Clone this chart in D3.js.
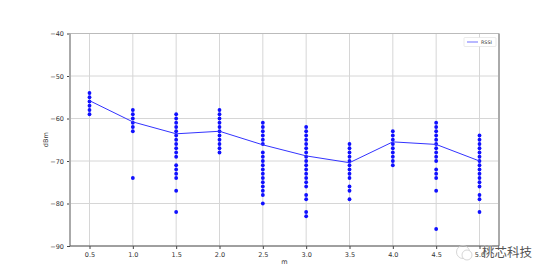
<!DOCTYPE html>
<html>
<head>
<meta charset="utf-8">
<script src="https://cdn.jsdelivr.net/npm/d3@7"></script>
<style>
  body { margin: 0; background: #fff; }
  svg { display: block; font-family: "DejaVu Sans", sans-serif; }
</style>
</head>
<body>
<svg id="chart" width="554" height="276"></svg>
<script>
// distances (m)
const distances = [0.5, 1.0, 1.5, 2.0, 2.5, 3.0, 3.5, 4.0, 4.5, 5.0];

// measured RSSI samples per distance (dBm)
const samples = [
  [-54, -55, -56, -57, -58, -59],
  [-58, -59, -60, -61, -62, -63, -74],
  [-59, -60, -61, -62, -63, -64, -65, -66, -67, -68, -69, -71, -72, -73, -74, -77, -82],
  [-58, -59, -60, -61, -62, -63, -64, -65, -66, -67, -68],
  [-61, -62, -63, -64, -65, -66, -68, -69, -70, -71, -72, -73, -74, -75, -76, -77, -78, -80],
  [-62, -63, -64, -65, -66, -67, -68, -69, -70, -71, -72, -73, -74, -75, -76, -78, -79, -82, -83],
  [-66, -67, -68, -69, -70, -71, -72, -73, -74, -76, -77, -79],
  [-63, -64, -65, -66, -67, -68, -69, -70, -71],
  [-61, -62, -63, -64, -65, -66, -67, -68, -69, -70, -72, -73, -74, -77, -86],
  [-64, -65, -66, -67, -68, -69, -70, -71, -72, -73, -74, -75, -76, -78, -79, -82]
];

// average RSSI line (dBm)
const meanRssi = [-55.8, -60.8, -63.6, -63.0, -66.2, -68.8, -70.4, -65.5, -66.1, -70.0];

const xTicks = [0.5, 1.0, 1.5, 2.0, 2.5, 3.0, 3.5, 4.0, 4.5, 5.0];
const yTicks = [-90, -80, -70, -60, -50, -40];

const svg = d3.select("#chart");
const margin = { top: 33.5, right: 55, bottom: 30, left: 70 };
const width = 554 - margin.left - margin.right;
const height = 276 - margin.top - margin.bottom;
const g = svg.append("g").attr("transform", `translate(${margin.left},${margin.top})`);

const x = d3.scaleLinear().domain([0.275, 5.225]).range([0, width]);
const y = d3.scaleLinear().domain([-90, -40]).range([height, 0]);

// grid
g.append("g")
  .selectAll("line")
  .data(xTicks)
  .join("line")
  .attr("x1", d => x(d)).attr("x2", d => x(d))
  .attr("y1", 0).attr("y2", height)
  .attr("stroke", "#d6d6d6").attr("stroke-width", 1);

g.append("g")
  .selectAll("line")
  .data(yTicks)
  .join("line")
  .attr("x1", 0).attr("x2", width)
  .attr("y1", d => y(d)).attr("y2", d => y(d))
  .attr("stroke", "#d6d6d6").attr("stroke-width", 1);

// axes
const yAxis = g.append("g")
  .call(d3.axisLeft(y).tickValues(yTicks).tickSize(3).tickPadding(3).tickFormat(d => String(d).replace("-", "\u2212")));
const xAxis = g.append("g")
  .attr("transform", `translate(0,${height})`)
  .call(d3.axisBottom(x).tickValues(xTicks).tickSize(3).tickPadding(3).tickFormat(d3.format(".1f")));

[yAxis, xAxis].forEach(a => {
  a.select(".domain").remove();
  a.selectAll(".tick line").attr("stroke", "#444");
  a.selectAll("text").attr("fill", "#333").style("font-size", "6.5px").style("font-family", "DejaVu Sans");
});

// spines
g.append("line").attr("x1", 0).attr("x2", width).attr("y1", 0).attr("y2", 0)
  .attr("stroke", "#bbb").attr("stroke-width", 1.2);
g.append("line").attr("x1", 0).attr("x2", 0).attr("y1", 0).attr("y2", height)
  .attr("stroke", "#aaa").attr("stroke-width", 2);
g.append("line").attr("x1", width).attr("x2", width).attr("y1", 0).attr("y2", height)
  .attr("stroke", "#aaa").attr("stroke-width", 2);
g.append("line").attr("x1", 0).attr("x2", width).attr("y1", height).attr("y2", height)
  .attr("stroke", "#555").attr("stroke-width", 1);

// axis labels
g.append("text")
  .attr("transform", `translate(${-22},${height / 2}) rotate(-90)`)
  .attr("text-anchor", "middle")
  .style("font-size", "6.5px")
  .attr("fill", "#333")
  .text("dBm");

g.append("text")
  .attr("x", width / 2)
  .attr("y", height + 18)
  .attr("text-anchor", "middle")
  .style("font-size", "6.5px")
  .attr("fill", "#333")
  .text("m");

// scatter points
const points = distances.flatMap((d, i) => samples[i].map(v => ({ d, v })));
g.append("g")
  .selectAll("circle")
  .data(points)
  .join("circle")
  .attr("cx", p => x(p.d))
  .attr("cy", p => y(p.v))
  .attr("r", 1.9)
  .attr("fill", "#1010ff");

// mean line
const lineData = distances.map((d, i) => ({ d, v: meanRssi[i] }));
g.append("path")
  .datum(lineData)
  .attr("fill", "none")
  .attr("stroke", "#3333ff")
  .attr("stroke-width", 1)
  .attr("d", d3.line().x(p => x(p.d)).y(p => y(p.v)));

// legend
const leg = g.append("g").attr("transform", `translate(${width - 35},4)`);
leg.append("rect").attr("width", 32).attr("height", 9)
  .attr("fill", "#fff").attr("stroke", "#ddd").attr("stroke-width", 0.6).attr("rx", 1);
leg.append("line").attr("x1", 3).attr("x2", 14).attr("y1", 4.5).attr("y2", 4.5)
  .attr("stroke", "#8888ff").attr("stroke-width", 1.2);
leg.append("text").attr("x", 17).attr("y", 6.5)
  .style("font-size", "4.8px").attr("fill", "#333").text("RSSI");

// watermark
const wm = svg.append("g").attr("transform", "translate(455,244)");
wm.append("circle").attr("cx", 8).attr("cy", 8).attr("r", 6.5)
  .attr("fill", "none").attr("stroke", "#ccc").attr("stroke-width", 0.8);
wm.append("circle").attr("cx", 12).attr("cy", 11).attr("r", 5)
  .attr("fill", "#fff").attr("stroke", "#ccc").attr("stroke-width", 0.8);
wm.append("text").attr("x", 27).attr("y", 13)
  .style("font-family", "Noto Sans CJK SC")
  .style("font-size", "12.5px")
  .attr("fill", "#555")
  .attr("stroke", "#fff").attr("stroke-width", 0.4).attr("paint-order", "stroke")
  .text("桃芯科技");
</script>
</body>
</html>
